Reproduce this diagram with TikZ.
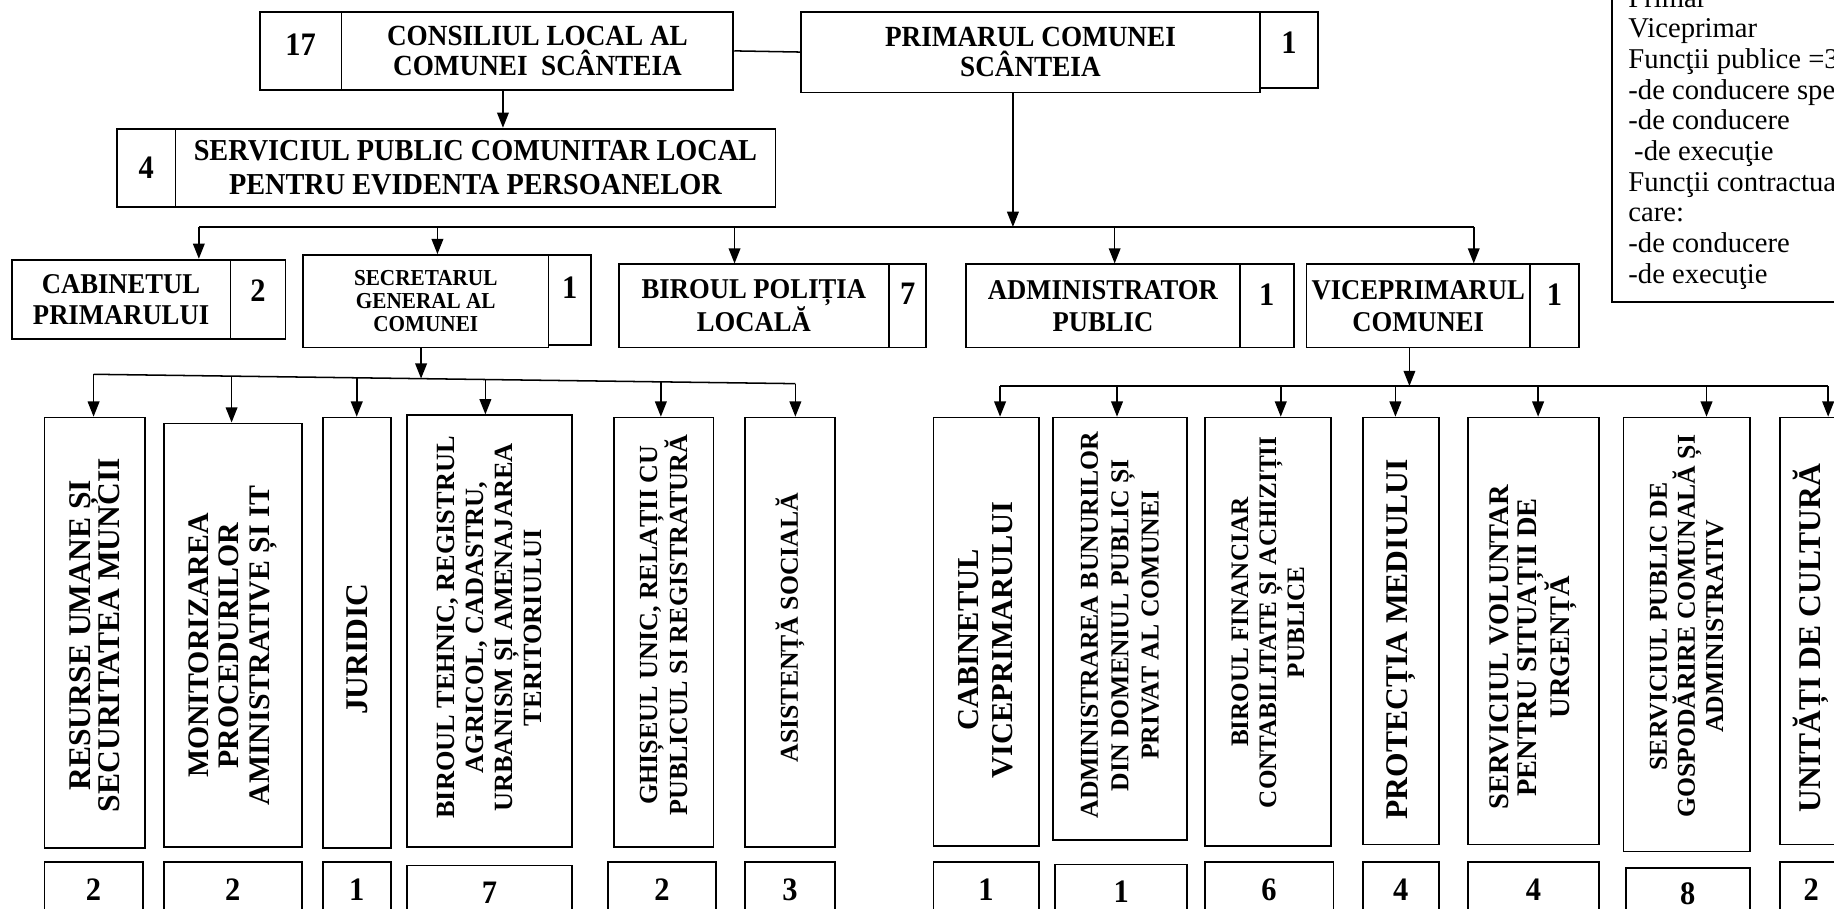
\documentclass[tikz,border=0pt]{standalone}
\usepackage{fontspec}
\setmainfont{Liberation Serif}
\newfontfamily\condfont{Liberation Serif}[FakeStretch=0.93]
\usetikzlibrary{arrows.meta}
\begin{document}
\begin{tikzpicture}[x=1pt,y=-1pt,
  box/.style={draw, line width=1.5pt, inner sep=0pt, align=center},
  toptxt/.style={font=\condfont\bfseries\fontsize{25}{26}\selectfont},
  rowtxt/.style={font=\condfont\bfseries\fontsize{24.5}{27}\selectfont},
  sectxt/.style={font=\condfont\bfseries\fontsize{19.5}{19.5}\selectfont},
  coltxt/.style={inner sep=0pt, align=center, rotate=90},
  cf/.style 2 args={font=\bfseries\fontsize{#1}{#2}\selectfont},
  numtxt/.style={font=\condfont\bfseries\fontsize{28}{28}\selectfont, text height=19pt},
  legtxt/.style={font=\fontsize{24.5}{26.2}\selectfont, align=left, inner sep=0pt},
  arr/.style={-{Triangle[width=10pt,length=13pt]}, line width=1.3pt},
  ln/.style={line width=1.3pt}]
\useasboundingbox (0,0) rectangle (1568,777);

% ---------- top row ----------
\node[box, numtxt, minimum width=70pt, minimum height=67pt, text depth=11pt] (n17) at (257,43.5) {17};
\node[box, toptxt, minimum width=335pt, minimum height=67pt] (consiliul) at (459.5,43.5) {CONSILIUL LOCAL AL\\COMUNEI\ \ SCÂNTEIA};
\node[box, toptxt, minimum width=392pt, minimum height=69pt] (primarul) at (881,44.5) {PRIMARUL COMUNEI\\SCÂNTEIA};
\node[box, numtxt, minimum width=50pt, minimum height=65pt, text depth=13pt] (n1p) at (1102,42.5) {1};
\draw[ln] (consiliul.east) -- (primarul.west);

\node[box, numtxt, minimum width=50pt, minimum height=67pt, text depth=1pt] (n4) at (125,143.5) {4};
\node[box, minimum width=513pt, minimum height=67pt, font=\condfont\bfseries\fontsize{26}{29}\selectfont] (spclep) at (406.5,143.5) {SERVICIUL PUBLIC COMUNITAR LOCAL\\PENTRU EVIDENTA PERSOANELOR};
\coordinate (a1) at (430,0);
\draw[arr] (consiliul.south -| a1) -- (spclep.north -| a1);

% ---------- main bus ----------
\coordinate (b0) at (866,194);
\coordinate (bL) at (170,194);
\coordinate (bS) at (374,194);
\coordinate (bP) at (628,194);
\coordinate (bA) at (953,194);
\coordinate (bR) at (1260,194);
\draw[arr] (primarul.south -| b0) -- (b0);
\draw[ln] (bL) -- (bR);

% ---------- second row ----------
\node[box, rowtxt, minimum width=187pt, minimum height=68pt] (cabinetul) at (103.5,256) {CABINETUL\\PRIMARULUI};
\node[box, numtxt, minimum width=47pt, minimum height=68pt, text depth=16pt] (ncab) at (220.5,256) {2};
\node[box, sectxt, minimum width=210pt, minimum height=79pt] (secretarul) at (364,257.5) {SECRETARUL\\GENERAL AL\\COMUNEI};
\node[box, numtxt, minimum width=36pt, minimum height=77pt, text depth=22pt] (nsec) at (487,256.5) {1};
\node[box, rowtxt, minimum width=231pt, minimum height=71pt] (politia) at (644.5,261.5) {BIROUL POLIȚIA\\LOCALĂ};
\node[box, numtxt, minimum width=32pt, minimum height=71pt, text depth=22pt] (npol) at (776,261.5) {7};
\node[box, rowtxt, minimum width=234pt, minimum height=71pt] (admin) at (943,261.5) {ADMINISTRATOR\\PUBLIC};
\node[box, numtxt, minimum width=46pt, minimum height=71pt, text depth=19pt] (nadm) at (1083,261.5) {1};
\node[box, rowtxt, minimum width=191pt, minimum height=71pt] (vice) at (1212.5,261.5) {VICEPRIMARUL\\COMUNEI};
\node[box, numtxt, minimum width=42pt, minimum height=71pt, text depth=19pt] (nvice) at (1329,261.5) {1};

\draw[arr] (bL) -- (cabinetul.north -| bL);
\draw[arr] (bS) -- (secretarul.north -| bS);
\draw[arr] (bP) -- (politia.north -| bP);
\draw[arr] (bA) -- (admin.north -| bA);
\draw[arr] (bR) -- (vice.north -| bR);

% ---------- legend ----------
\node[draw, line width=1.3pt, minimum width=242pt, minimum height=280pt, inner sep=0pt] (legendbox) at (1499,118) {};
\node[legtxt, anchor=north west] (legend) at (1392,-10.2) {Primar\\Viceprimar\\Funcţii publice =3\\-de conducere spe\\-de conducere\\\hspace*{5pt}-de execuţie\\Funcţii contractua\\care:\\-de conducere\\-de execuţie};

% ---------- left sub-bus ----------
\coordinate (s0) at (360,323.7);
\coordinate (d1) at (80,320);
\coordinate (d2) at (198,321.6);
\coordinate (d3) at (305,323);
\coordinate (d4) at (415,324.5);
\coordinate (d5) at (565,326.5);
\coordinate (d6) at (680,328);
\draw[arr] (secretarul.south -| s0) -- (s0);
\draw[ln] (d1) -- (d6);

\node[box, minimum width=86pt, minimum height=368pt] (resurse) at (81,541) {};
\node[coltxt, cf={27}{25.5}] (resurse-t) at ([yshift=-2pt]resurse.center) {RESURSE UMANE ȘI\\SECURITATEA MUNCII};
\node[box, minimum width=118pt, minimum height=362pt] (monit) at (199,543) {};
\node[coltxt, cf={25.5}{26}] (monit-t) at ([yshift=-9pt]monit.center) {MONITORIZAREA\\PROCEDURILOR\\AMINISTRATIVE ȘI IT};
\node[box, minimum width=58pt, minimum height=368pt] (juridic) at (305,541) {};
\node[coltxt, cf={27}{27}] (juridic-t) at ([yshift=-14pt]juridic.center) {JURIDIC};
\node[box, minimum width=141pt, minimum height=369pt] (tehnic) at (418.5,539.5) {};
\node[coltxt, cf={22.5}{25}] (tehnic-t) at ([yshift=3pt]tehnic.center) {BIROUL TEHNIC, REGISTRUL\\AGRICOL, CADASTRU,\\URBANISM ȘI AMENAJAREA\\TERITORIULUI};
\node[box, minimum width=85pt, minimum height=367pt] (ghiseu) at (567.5,540.5) {};
\node[coltxt, cf={22.3}{24}] (ghiseu-t) at ([yshift=6pt]ghiseu.center) {GHIȘEUL UNIC, RELAȚII CU\\PUBLICUL SI REGISTRATURĂ};
\node[box, minimum width=77pt, minimum height=367pt] (asist) at (675.5,540.5) {};
\node[coltxt, cf={22}{24}] (asist-t) at ([yshift=4pt]asist.center) {ASISTENȚĂ SOCIALĂ};

\draw[arr] (d1) -- (resurse.north -| d1);
\draw[arr] (d2) -- (monit.north -| d2);
\draw[arr] (d3) -- (juridic.north -| d3);
\draw[arr] (d4) -- (tehnic.north -| d4);
\draw[arr] (d5) -- (ghiseu.north -| d5);
\draw[arr] (d6) -- (asist.north -| d6);

\node[box, numtxt, minimum width=84pt, minimum height=53pt, text depth=7pt] (nres) at (80,763.5) {2};
\node[box, numtxt, minimum width=118pt, minimum height=53pt, text depth=7pt] (nmon) at (199,763.5) {2};
\node[box, numtxt, minimum width=58pt, minimum height=53pt, text depth=7pt] (njur) at (305,763.5) {1};
\node[box, numtxt, minimum width=141pt, minimum height=50pt, text depth=4pt] (nteh) at (418.5,765) {7};
\node[box, numtxt, minimum width=92pt, minimum height=53pt, text depth=7pt] (nghi) at (566,763.5) {2};
\node[box, numtxt, minimum width=77pt, minimum height=53pt, text depth=7pt] (nasi) at (675.5,763.5) {3};

% ---------- right sub-bus ----------
\coordinate (v0) at (1205,330);
\coordinate (e1) at (855,330);
\coordinate (e2) at (955,330);
\coordinate (e3) at (1095,330);
\coordinate (e4) at (1193,330);
\coordinate (e5) at (1315,330);
\coordinate (e6) at (1459,330);
\coordinate (e7) at (1563,330);
\draw[arr] (vice.south -| v0) -- (v0);
\draw[ln] (e1) -- (e7);

\node[box, minimum width=90pt, minimum height=366pt] (cabvice) at (843,540) {};
\node[coltxt, cf={26}{29}] (cabvice-t) at ([yshift=-7pt]cabvice.center) {CABINETUL\\VICEPRIMARULUI};
\node[box, minimum width=115pt, minimum height=361pt] (bunuri) at (957.5,537.5) {};
\node[coltxt, cf={22}{26}] (bunuri-t) at ([yshift=3pt]bunuri.center) {ADMINISTRAREA BUNURILOR\\DIN DOMENIUL PUBLIC ȘI\\PRIVAT AL COMUNEI};
\node[box, minimum width=108pt, minimum height=366pt] (financiar) at (1084,540) {};
\node[coltxt, cf={21.5}{24}] (financiar-t) at ([yshift=8pt]financiar.center) {BIROUL FINANCIAR\\CONTABILITATE ȘI ACHIZIȚII\\PUBLICE};
\node[box, minimum width=65pt, minimum height=365pt] (mediu) at (1197.5,539.5) {};
\node[coltxt, cf={27}{27}] (mediu-t) at ([yshift=-7pt]mediu.center) {PROTECȚIA MEDIULUI};
\node[box, minimum width=112pt, minimum height=365pt] (voluntar) at (1311,539.5) {};
\node[coltxt, cf={24.3}{23.5}] (voluntar-t) at ([yshift=-14pt]voluntar.center) {SERVICIUL VOLUNTAR\\PENTRU SITUAȚII DE\\URGENȚĂ};
\node[box, minimum width=108pt, minimum height=371pt] (gospod) at (1442,542.5) {};
\node[coltxt, cf={22}{24}] (gospod-t) at ([yshift=7pt]gospod.center) {SERVICIUL PUBLIC DE\\GOSPODĂRIRE COMUNALĂ ȘI\\ADMINISTRATIV};
\node[box, minimum width=53pt, minimum height=365pt] (cultura) at (1548.5,539.5) {};
\node[coltxt, cf={27}{27}] (cultura-t) at ([yshift=-6pt]cultura.center) {UNITĂȚI DE CULTURĂ};

\draw[arr] (e1) -- (cabvice.north -| e1);
\draw[arr] (e2) -- (bunuri.north -| e2);
\draw[arr] (e3) -- (financiar.north -| e3);
\draw[arr] (e4) -- (mediu.north -| e4);
\draw[arr] (e5) -- (voluntar.north -| e5);
\draw[arr] (e6) -- (gospod.north -| e6);
\draw[arr] (e7) -- (cultura.north -| e7);

\node[box, numtxt, minimum width=90pt, minimum height=53pt, text depth=7pt] (ncv) at (843,763.5) {1};
\node[box, numtxt, minimum width=113pt, minimum height=51pt, text depth=5pt] (nbun) at (958.5,764.5) {1};
\node[box, numtxt, minimum width=110pt, minimum height=53pt, text depth=7pt] (nfin) at (1085,763.5) {6};
\node[box, numtxt, minimum width=65pt, minimum height=53pt, text depth=7pt] (nmed) at (1197.5,763.5) {4};
\node[box, numtxt, minimum width=112pt, minimum height=53pt, text depth=7pt] (nvol) at (1311,763.5) {4};
\node[box, numtxt, minimum width=106pt, minimum height=48pt, text depth=4pt] (ngos) at (1443,766) {8};
\node[box, numtxt, minimum width=53pt, minimum height=53pt, text depth=7pt] (ncul) at (1548.5,763.5) {2};
\end{tikzpicture}
\end{document}
